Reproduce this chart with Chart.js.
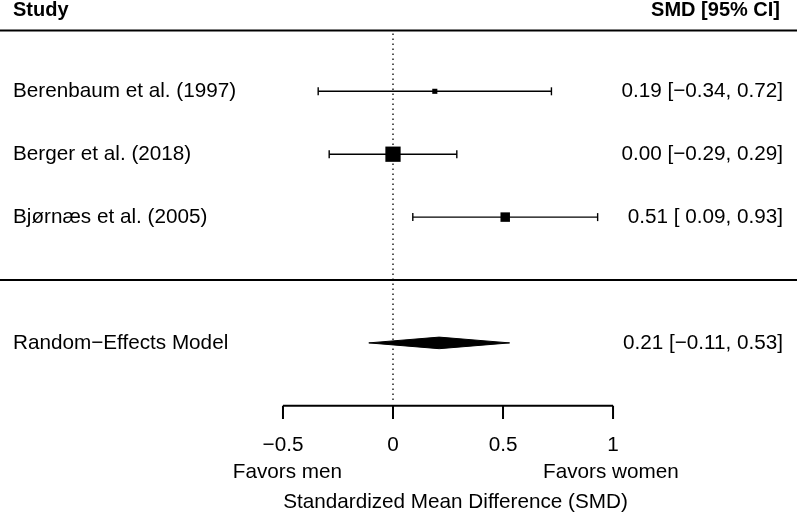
<!DOCTYPE html>
<html>
<head>
<meta charset="utf-8">
<script src="https://cdn.jsdelivr.net/npm/chart.js@4"></script>
<style>
  html, body { margin: 0; padding: 0; background: #fff; }
  #wrap { width: 797px; height: 515px; position: relative; }
</style>
</head>
<body>
<div id="wrap"><canvas id="forest"></canvas></div>
<script>
// study rows
const studies = ["Berenbaum et al. (1997)", "Berger et al. (2018)", "Bjørnæs et al. (2005)"];
const estimates = [0.19, 0.00, 0.51];
const ciLower = [-0.34, -0.29, 0.09];
const ciUpper = [0.72, 0.29, 0.93];

// pooled estimate
const modelLabel = "Random\u2212Effects Model";
const modelEst = 0.21;
const modelLower = -0.11;
const modelUpper = 0.53;

const xTicks = [-0.5, 0, 0.5, 1];
const xTickLabels = ["\u22120.5", "0", "0.5", "1"];

const FONT = '"Liberation Sans", Arial, sans-serif';
const rows = studies.map((s, i) => i + 1);
const modelRow = 5;
const axisRow = 6;

function fmt(v) {
  return (v < 0 ? "\u2212" : "") + Math.abs(v).toFixed(2);
}
function ciText(est, lo, hi) {
  const loStr = lo < 0 ? fmt(lo) : " " + fmt(lo);
  return fmt(est) + " [" + loStr + ", " + fmt(hi) + "]";
}

// x: 0 sits at 393px, 220px per unit; y: one row is ~62.9px
const xMin = -1.786, xMax = 1.836;
const yMin = -0.4515, yMax = 7.736;

const datasets = [];

// horizontal rule lines (top and separator)
[0.033, 4].forEach(r => datasets.push({
  data: [{ x: xMin, y: r }, { x: xMax, y: r }],
  borderColor: "#000", borderWidth: 2, pointRadius: 0
}));

// zero reference line
datasets.push({
  data: [{ x: 0, y: 0.08 }, { x: 0, y: 5.94 }],
  borderColor: "#000", borderWidth: 1.3, borderDash: [1.6, 3.4], pointRadius: 0
});

// confidence intervals with end caps
studies.forEach((s, i) => datasets.push({
  data: [{ x: ciLower[i], y: rows[i] }, { x: ciUpper[i], y: rows[i] }],
  borderColor: "#000", borderWidth: 1.4,
  pointStyle: "line", pointRotation: 90, pointRadius: 4,
  pointBorderWidth: 1.4, pointBorderColor: "#000"
}));

// point estimates
datasets.push({
  data: estimates.map((e, i) => ({ x: e, y: rows[i] })),
  showLine: false,
  pointStyle: "rect",
  pointRadius: [3.6, 10.8, 6.7],
  pointBackgroundColor: "#000", pointBorderColor: "#000", pointBorderWidth: 0
});

// summary diamond (upper and lower halves, filled between)
const dh = 0.092;
datasets.push({
  data: [{ x: modelLower, y: modelRow }, { x: modelEst, y: modelRow - dh }, { x: modelUpper, y: modelRow }],
  borderColor: "#000", borderWidth: 1, pointRadius: 0, tension: 0
});
datasets.push({
  data: [{ x: modelLower, y: modelRow }, { x: modelEst, y: modelRow + dh }, { x: modelUpper, y: modelRow }],
  borderColor: "#000", borderWidth: 1, pointRadius: 0, tension: 0,
  fill: "-1", backgroundColor: "#000"
});

// x axis line and ticks
datasets.push({
  data: [{ x: xTicks[0], y: axisRow }, { x: xTicks[xTicks.length - 1], y: axisRow }],
  borderColor: "#000", borderWidth: 2, pointRadius: 0
});
xTicks.forEach(t => datasets.push({
  data: [{ x: t, y: axisRow }, { x: t, y: axisRow + 0.21 }],
  borderColor: "#000", borderWidth: 2, pointRadius: 0
}));

const textPlugin = {
  id: "forestText",
  afterDatasetsDraw(chart) {
    const { ctx, chartArea, scales: { x, y } } = chart;
    ctx.save();
    ctx.fillStyle = "#000";

    // headers
    ctx.textBaseline = "alphabetic";
    ctx.font = "bold 20px " + FONT;
    ctx.textAlign = "left";
    ctx.fillText("Study", chartArea.left + 13, 16);
    ctx.textAlign = "right";
    ctx.fillText("SMD [95% CI]", chartArea.right - 17, 16);

    ctx.textBaseline = "middle";
    ctx.font = "20.7px " + FONT;
    studies.forEach((s, i) => {
      const py = y.getPixelForValue(rows[i]);
      ctx.textAlign = "left";
      ctx.fillText(s, chartArea.left + 13, py);
      ctx.textAlign = "right";
      ctx.fillText(ciText(estimates[i], ciLower[i], ciUpper[i]), chartArea.right - 14, py);
    });
    const my = y.getPixelForValue(modelRow);
    ctx.textAlign = "left";
    ctx.fillText(modelLabel, chartArea.left + 13, my);
    ctx.textAlign = "right";
    ctx.fillText(ciText(modelEst, modelLower, modelUpper), chartArea.right - 14, my);

    // tick labels
    ctx.textAlign = "center";
    xTicks.forEach((t, i) => ctx.fillText(xTickLabels[i], x.getPixelForValue(t), y.getPixelForValue(6.623)));

    // direction labels and axis title
    ctx.fillText("Favors men", x.getPixelForValue(-0.48), y.getPixelForValue(7.052));
    ctx.fillText("Favors women", x.getPixelForValue(0.99), y.getPixelForValue(7.052));
    ctx.fillText("Standardized Mean Difference (SMD)", x.getPixelForValue(0.284), y.getPixelForValue(7.529));
    ctx.restore();
  }
};

new Chart(document.getElementById("forest"), {
  type: "line",
  data: { datasets: datasets },
  options: {
    responsive: true,
    maintainAspectRatio: false,
    animation: false,
    layout: { padding: 0, autoPadding: false },
    plugins: { legend: { display: false }, tooltip: { enabled: false } },
    scales: {
      x: { type: "linear", min: xMin, max: xMax, display: false },
      y: { type: "linear", min: yMin, max: yMax, reverse: true, display: false }
    }
  },
  plugins: [textPlugin]
});
</script>
</body>
</html>
